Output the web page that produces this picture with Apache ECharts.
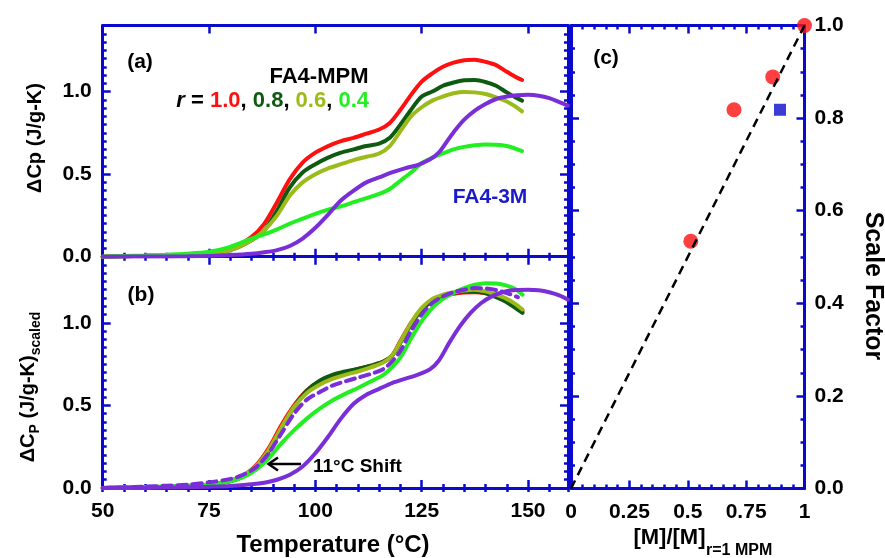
<!DOCTYPE html>
<html>
<head>
<meta charset="utf-8">
<script src="https://cdn.jsdelivr.net/npm/echarts@6/dist/echarts.min.js"></script>
<style>html,body{margin:0;padding:0;background:#fff}#c{width:885px;height:558px}</style>
</head>
<body>
<div id="c"></div>
<script>
// ---------- DATA ----------
// Panel (a): FA4-MPM curves (r = 1.0, 0.8, 0.6, 0.4)
const tA = [50,55,60,65,70,75,80,85,88,91,94,97,100,103,106,109,112,115,117.5,120,122.5,125,127.5,130,132.5,135,137.5,140,142.5,145,147,148.6];
const aR10 = [0,.003,.005,.008,.012,.02,.045,.12,.20,.33,.47,.57,.63,.67,.70,.72,.745,.77,.81,.89,.98,1.06,1.11,1.15,1.175,1.19,1.193,1.18,1.16,1.12,1.09,1.07];
const aR08 = [0,.003,.005,.008,.012,.02,.04,.10,.16,.28,.42,.51,.56,.60,.63,.65,.67,.685,.72,.80,.89,.97,1.00,1.035,1.055,1.068,1.07,1.058,1.035,.995,.965,.945];
const aR06 = [0,.003,.005,.008,.012,.02,.04,.10,.16,.25,.37,.45,.50,.535,.56,.585,.605,.625,.67,.76,.85,.905,.945,.97,.99,.998,.995,.985,.965,.94,.91,.88];
const aR04 = [0,.004,.007,.012,.018,.03,.06,.11,.135,.165,.20,.23,.26,.285,.305,.33,.355,.38,.41,.46,.51,.565,.60,.625,.65,.665,.675,.68,.678,.67,.655,.64];
// Panel (a): FA4-3M
const tA3 = [50,60,70,75,80,85,88,91,94,97,100,103,106,109,112,115,118,121,124,127,129,131,133,135,137.5,140,142.5,145,147.5,150,152.5,155,157.5,159.4];
const a3M = [0,.001,.003,.005,.01,.018,.027,.04,.065,.11,.175,.255,.34,.40,.45,.48,.51,.535,.555,.59,.63,.70,.77,.83,.885,.925,.955,.97,.978,.98,.975,.96,.935,.915];

// Panel (b): scaled curves
const tB = [50,55,60,65,70,75,80,83,86,89,92,95,98,101,104,107,110,113,116,118,120,122.5,125,127.5,130,132.5,135,137.5,140,142.5,145,147,148.7];
const bR10 = [0,.003,.005,.008,.012,.02,.045,.075,.135,.24,.38,.50,.59,.645,.68,.70,.72,.74,.765,.80,.89,1.00,1.08,1.13,1.16,1.175,1.183,1.185,1.178,1.16,1.13,1.10,1.07];
const bR08 = [0,.003,.005,.008,.012,.018,.04,.07,.125,.22,.36,.49,.59,.65,.685,.705,.72,.74,.765,.80,.88,.99,1.08,1.135,1.165,1.18,1.19,1.19,1.18,1.155,1.125,1.09,1.06];
const bR06 = [0,.003,.005,.008,.012,.02,.045,.075,.13,.23,.365,.49,.575,.625,.66,.685,.705,.73,.76,.80,.885,1.00,1.09,1.145,1.17,1.185,1.195,1.20,1.19,1.17,1.145,1.115,1.08];
const bR04 = [0,.003,.006,.01,.014,.02,.04,.065,.11,.18,.27,.35,.42,.48,.53,.57,.605,.645,.685,.73,.79,.905,1.01,1.09,1.145,1.18,1.21,1.23,1.24,1.238,1.225,1.205,1.17];
const tBd = [50,55,60,65,70,75,80,83,86,89,92,95,98,101,104,107,110,113,116,118,120,122.5,125,127.5,130,132.5,135,137.5,140,142.5,145,147.6];
const b3Mshift = [0,.003,.008,.014,.02,.034,.055,.08,.125,.21,.33,.45,.535,.58,.62,.645,.668,.69,.72,.765,.83,.95,1.05,1.12,1.16,1.185,1.20,1.21,1.208,1.198,1.18,1.155];
const tB3 = [50,60,70,75,80,85,88,91,94,97,100,103,106,109,112,115,118,121,124,127,129,131.5,134,136.5,139,141.5,144,147,150,152.5,155,157.5,159.4];
const b3M = [0,.002,.005,.008,.012,.022,.032,.05,.08,.13,.21,.31,.42,.51,.565,.60,.635,.66,.685,.72,.77,.88,.98,1.06,1.12,1.16,1.185,1.198,1.20,1.197,1.185,1.165,1.14];

// Panel (c): scale factor vs [M]/[M]r=1 MPM
const cMPMx = [0.513, 0.698, 0.864, 1.0];
const cMPMy = [0.534, 0.818, 0.889, 1.0];
const c3Mx = [0.895];
const c3My = [0.818];
const cFitX = [0, 1];
const cFitY = [0, 1];

// tick labels
const yTickLabelsAB = ['0.0','0.5','1.0'];

// ---------- STYLE ----------
const BLUE = '#0a0acc';
const FONT = '"Liberation Sans", Arial, Helvetica, sans-serif';
const C_RED = '#ff1010', C_DG = '#0e5a10', C_YG = '#9abb1a', C_LG = '#22ee22', C_PU = '#7a2ed8';

const labelStyle = { show: true, color: '#000', fontWeight: 'bold', fontSize: 21, fontFamily: FONT };

function ax(gridIndex, position, o) {
  return Object.assign({
    type: 'value', gridIndex: gridIndex, position: position,
    axisLine: { show: true, onZero: false, lineStyle: { color: BLUE, width: 3 } },
    axisTick: { show: true, inside: true, length: 8, lineStyle: { color: BLUE, width: 2.5 } },
    axisLabel: { show: false },
    splitLine: { show: false }
  }, o);
}
function minor(gridIndex, position, o) {
  return ax(gridIndex, position, Object.assign({
    axisLine: { show: false },
    axisTick: { show: true, inside: true, length: 4, lineStyle: { color: BLUE, width: 2.5 } }
  }, o));
}
const xr = { min: 50, max: 159.4 };
const yr = { min: 0, max: 1.4 };

const xAxis = [
  ax(0, 'bottom', Object.assign({ interval: 25 }, xr)),
  minor(0, 'bottom', Object.assign({ interval: 5 }, xr)),
  ax(0, 'top', Object.assign({ interval: 25 }, xr)),
  minor(0, 'top', Object.assign({ interval: 5 }, xr)),
  ax(1, 'bottom', Object.assign({ interval: 25, axisLabel: Object.assign({}, labelStyle, { margin: 13, showMaxLabel: false }) }, xr)),
  minor(1, 'bottom', Object.assign({ interval: 5 }, xr)),
  ax(1, 'top', Object.assign({ interval: 25 }, xr)),
  minor(1, 'top', Object.assign({ interval: 5 }, xr)),
  ax(2, 'bottom', { min: 0, max: 1, interval: 0.25,
    minorTick: { show: true, splitNumber: 5, length: 4, lineStyle: { color: BLUE, width: 2.5 } },
    axisLabel: Object.assign({}, labelStyle, { margin: 13 }) }),
  ax(2, 'top', { min: 0, max: 1, interval: 0.25,
    minorTick: { show: true, splitNumber: 5, length: 4, lineStyle: { color: BLUE, width: 2.5 } } })
];
const yLab = Object.assign({}, labelStyle, { margin: 11, showMaxLabel: false,
  formatter: function (v) { return yTickLabelsAB[Math.round(v * 2)] || ''; } });
const yAxis = [
  ax(0, 'left', Object.assign({ interval: 0.5, axisLabel: yLab }, yr)),
  minor(0, 'left', Object.assign({ interval: 0.05 }, yr)),
  ax(0, 'right', Object.assign({ interval: 0.5 }, yr)),
  minor(0, 'right', Object.assign({ interval: 0.05 }, yr)),
  ax(1, 'left', Object.assign({ interval: 0.5, axisLabel: yLab }, yr)),
  minor(1, 'left', Object.assign({ interval: 0.05 }, yr)),
  ax(1, 'right', Object.assign({ interval: 0.5 }, yr)),
  minor(1, 'right', Object.assign({ interval: 0.05 }, yr)),
  ax(2, 'left', { min: 0, max: 1, interval: 0.2,
    minorTick: { show: true, splitNumber: 4, length: 4, lineStyle: { color: BLUE, width: 2.5 } } }),
  ax(2, 'right', { min: 0, max: 1, interval: 0.2,
    minorTick: { show: true, splitNumber: 4, length: 4, lineStyle: { color: BLUE, width: 2.5 } },
    axisLabel: Object.assign({}, labelStyle, { margin: 10, formatter: function (v) { return v.toFixed(1); } }) })
];

function pairs(xs, ys) { return xs.map(function (x, i) { return [x, ys[i]]; }); }
function curve(xi, yi, xs, ys, color, dashed) {
  return { type: 'line', xAxisIndex: xi, yAxisIndex: yi, data: pairs(xs, ys), smooth: 0.3,
    showSymbol: false, symbol: 'none', silent: true,
    lineStyle: { color: color, width: 4, type: dashed ? [9, 6] : 'solid', cap: 'round' } };
}

const series = [
  curve(0, 0, tA, aR10, C_RED),
  curve(0, 0, tA, aR08, C_DG),
  curve(0, 0, tA, aR06, C_YG),
  curve(0, 0, tA, aR04, C_LG),
  curve(0, 0, tA3, a3M, C_PU),
  curve(4, 4, tB, bR10, C_RED),
  curve(4, 4, tB, bR08, C_DG),
  curve(4, 4, tB, bR06, C_YG),
  curve(4, 4, tB, bR04, C_LG),
  curve(4, 4, tBd, b3Mshift, C_PU, true),
  curve(4, 4, tB3, b3M, C_PU),
  { type: 'line', xAxisIndex: 8, yAxisIndex: 8, data: pairs(cFitX, cFitY), showSymbol: false, symbol: 'none',
    lineStyle: { color: '#000', width: 2.5, type: [9, 6] }, silent: true },
  { type: 'scatter', xAxisIndex: 8, yAxisIndex: 8, data: pairs(cMPMx, cMPMy), symbol: 'circle', symbolSize: 15,
    itemStyle: { color: '#ff1010' }, silent: true, clip: false },
  { type: 'scatter', xAxisIndex: 8, yAxisIndex: 8, data: pairs(c3Mx, c3My), symbol: 'rect', symbolSize: 12,
    itemStyle: { color: BLUE }, silent: true, clip: false }
];

// ---------- TEXT ----------
const ctx = document.createElement('canvas').getContext('2d');
function tw(t, f) { ctx.font = f; return ctx.measureText(t).width; }
function txt(x, y, text, size, o, rot) {
  return { type: 'text', x: x, y: y, rotation: rot || 0, silent: true,
    style: Object.assign({ text: text, font: 'bold ' + size + 'px ' + FONT, fill: '#000', align: 'center', verticalAlign: 'middle' }, o || {}) };
}
function tok(color, italic) { return { fill: color, fontSize: 22, fontWeight: 'bold', fontStyle: italic ? 'italic' : 'normal', fontFamily: FONT }; }

// rotated label with subscripts
function subLabel(cx, cy, rot, parts) {
  let total = 0;
  parts.forEach(function (p) { p.w = tw(p[0], 'bold ' + p[1] + 'px ' + FONT); total += p.w; });
  let x = -total / 2;
  const children = parts.map(function (p) {
    const el = { type: 'text', x: x, y: p[2], silent: true,
      style: { text: p[0], font: 'bold ' + p[1] + 'px ' + FONT, fill: '#000', align: 'left', verticalAlign: 'middle' } };
    x += p.w; return el;
  });
  return { type: 'group', x: cx, y: cy, rotation: rot, children: children };
}

const graphic = [
  txt(140, 62, '(a)', 21),
  txt(141, 295, '(b)', 21),
  txt(606, 58, '(c)', 21),
  txt(319, 77, 'FA4-MPM', 22),
  { type: 'text', x: 369, y: 101, silent: true, style: {
      text: '{i|r}{k| = }{r|1.0}{k|, }{g|0.8}{k|, }{y|0.6}{k|, }{l|0.4}', align: 'right', verticalAlign: 'middle',
      font: 'bold 22px ' + FONT,
      rich: { i: tok('#000', true), k: tok('#000'), r: tok(C_RED), g: tok(C_DG), y: tok(C_YG), l: tok(C_LG) } } },
  txt(490, 197, 'FA4-3M', 21, { fill: '#1a1acc' }),
  txt(313, 467, '11°C Shift', 19, { align: 'left' }),
  { type: 'line', silent: true, shape: { x1: 301, y1: 464, x2: 269, y2: 464 }, style: { stroke: '#000', lineWidth: 2.5 } },
  { type: 'polyline', silent: true, shape: { points: [[278, 457.5], [268.5, 464], [278, 470.5]] }, style: { stroke: '#000', lineWidth: 2.5, fill: null } },
  txt(35, 138, 'ΔCp (J/g-K)', 20, {}, Math.PI / 2),
  subLabel(28, 387, Math.PI / 2, [['ΔC', 20, 0], ['P', 14, 7], [' (J/g-K)', 20, 0], ['scaled', 14, 8]]),
  txt(333, 545, 'Temperature (°C)', 24),
  txt(705.5, 538, '[M]/[M]', 22, { align: 'right' }),
  txt(706, 551, 'r=1 MPM', 16, { align: 'left' }),
  txt(873, 286, 'Scale Factor', 25, {}, -Math.PI / 2)
];

const chart = echarts.init(document.getElementById('c'), null, { renderer: 'canvas' });
chart.setOption({
  animation: false,
  backgroundColor: '#fff',
  grid: [
    { left: 102.7, top: 25.5, width: 465.3, height: 231.2, outerBoundsMode: 'none' },
    { left: 102.7, top: 256.7, width: 465.3, height: 231.3, outerBoundsMode: 'none' },
    { left: 571, top: 25.5, width: 233.5, height: 463, outerBoundsMode: 'none' }
  ],
  xAxis: xAxis,
  yAxis: yAxis,
  series: series,
  graphic: { elements: graphic }
});
</script>
</body>
</html>
